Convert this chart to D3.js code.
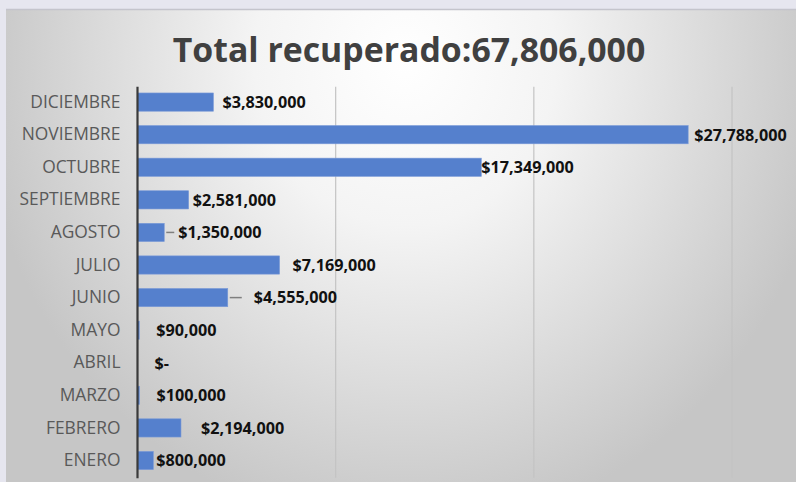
<!DOCTYPE html>
<html>
<head>
<meta charset="utf-8">
<script src="https://cdn.jsdelivr.net/npm/d3@7"></script>
<style>
  body { margin: 0; background: #e6e6ef; }
  svg { display: block; }
</style>
</head>
<body>
<svg width="796" height="482"></svg>
<script>
// data (bottom to top as in the original)
var months = ["ENERO", "FEBRERO", "MARZO", "ABRIL", "MAYO", "JUNIO",
              "JULIO", "AGOSTO", "SEPTIEMBRE", "OCTUBRE", "NOVIEMBRE", "DICIEMBRE"];
var recovered = [800000, 2194000, 100000, 0, 90000, 4555000,
                 7169000, 1350000, 2581000, 17349000, 27788000, 3830000];
var xTicks = [0, 10000000, 20000000, 30000000];
var titleText = "Total recuperado:67,806,000";

// label nudges (px) the way they sat in the original, plus leader line lengths
var labelGap = [3, 20, 17, 17, 17, 26, 13, 14, 4, 0, 6, 9];
var leaderLen = [0, 0, 0, 0, 0, 12, 0, 8, 0, 0, 0, 0];

var svg = d3.select("svg"),
    W = +svg.attr("width"), H = +svg.attr("height");

var defs = svg.append("defs");
var grad = defs.append("radialGradient")
    .attr("id", "bg")
    .attr("gradientUnits", "userSpaceOnUse")
    .attr("cx", 405).attr("cy", 60).attr("r", 430)
    .attr("gradientTransform", "translate(405,60) scale(1,1.1) translate(-405,-60)");
grad.append("stop").attr("offset", "0%").attr("stop-color", "#ffffff");
grad.append("stop").attr("offset", "35%").attr("stop-color", "#f4f4f4");
grad.append("stop").attr("offset", "100%").attr("stop-color", "#c6c6c6");

svg.append("rect").attr("width", W).attr("height", H).attr("fill", "#e6e6ef");
svg.append("rect").attr("x", 6).attr("y", 10).attr("width", W - 6).attr("height", H - 10)
    .attr("fill", "url(#bg)");
svg.append("line").attr("x1", 6).attr("x2", W).attr("y1", 9.5).attr("y2", 9.5)
    .attr("stroke", "#c4c4cc").attr("stroke-width", 1.5);

var margin = {top: 85.8, right: 64, bottom: 5, left: 137.5},
    width = 732 - margin.left,
    height = 391,
    g = svg.append("g").attr("transform", "translate(" + margin.left + "," + margin.top + ")");

var x = d3.scaleLinear()
    .domain([0, 30000000])
    .range([0, width]);

var y = d3.scaleBand()
    .domain(months.slice().reverse())
    .range([0, height])
    .paddingInner(0.44)
    .paddingOuter(0.22);

// gridlines
g.append("g")
  .selectAll("line")
  .data(xTicks.slice(1))
  .enter().append("line")
    .attr("x1", function(d) { return x(d); })
    .attr("x2", function(d) { return x(d); })
    .attr("y1", 1)
    .attr("y2", height + 1)
    .attr("stroke", "#c3c3c3")
    .attr("stroke-width", 1.2);

// bars
g.selectAll(".bar")
  .data(months)
  .enter().append("rect")
    .attr("class", "bar")
    .attr("x", 0)
    .attr("y", function(d) { return y(d); })
    .attr("width", function(d, i) { return x(recovered[i]); })
    .attr("height", y.bandwidth())
    .attr("fill", "#5580cd")
    .attr("stroke", "#7b9ad8")
    .attr("stroke-width", 0.6);

var fmt = d3.format(",");
function money(v) { return v === 0 ? "$-" : "$" + fmt(v); }

// leader lines
g.selectAll(".leader")
  .data(months.filter(function(d, i) { return leaderLen[i] > 0; }))
  .enter().append("line")
    .attr("x1", function(d) { return x(recovered[months.indexOf(d)]) + 2; })
    .attr("x2", function(d) { var i = months.indexOf(d); return x(recovered[i]) + 2 + leaderLen[i]; })
    .attr("y1", function(d) { return y(d) + y.bandwidth() / 2; })
    .attr("y2", function(d) { return y(d) + y.bandwidth() / 2; })
    .attr("stroke", "#7f7f7f")
    .attr("stroke-width", 1.5);

// value labels
g.selectAll(".val")
  .data(months)
  .enter().append("text")
    .attr("class", "val")
    .attr("x", function(d, i) { return Math.max(x(recovered[i]), 0) + labelGap[i]; })
    .attr("y", function(d) { return y(d) + y.bandwidth() / 2; })
    .attr("dy", "0.36em")
    .attr("font-family", "'Open Sans', sans-serif")
    .attr("font-weight", "bold")
    .attr("font-size", 16.2)
    .attr("fill", "#111")
    .text(function(d, i) { return money(recovered[i]); });

// category axis
var yAxis = g.append("g")
    .call(d3.axisLeft(y).tickSize(0).tickPadding(17));
yAxis.select(".domain")
    .attr("stroke", "#3a3a3a")
    .attr("stroke-width", 2.2)
    .attr("d", "M0,1V" + (height + 1.5));
yAxis.selectAll("text")
    .attr("font-family", "'Open Sans', sans-serif")
    .attr("font-size", 17.4)
    .attr("fill", "#595959");

// title
svg.append("text")
    .attr("x", 409)
    .attr("y", 62)
    .attr("text-anchor", "middle")
    .attr("font-family", "'Open Sans', sans-serif")
    .attr("font-weight", "bold")
    .attr("font-size", 33.8)
    .attr("fill", "#404040")
    .text(titleText);
</script>
</body>
</html>
